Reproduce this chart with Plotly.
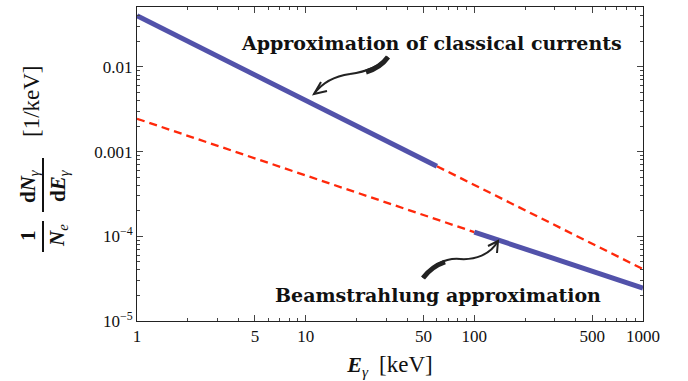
import plotly.graph_objects as go

# ---- data ----
classical_solid_x = [1, 60]
classical_solid_y = [0.040, 6.7e-4]
classical_dash_x = [60, 1000]
classical_dash_y = [6.7e-4, 4.1e-5]

beam_dash_x = [1, 100]
beam_dash_y = [2.44e-3, 1.12e-4]
beam_solid_x = [100, 1000]
beam_solid_y = [1.12e-4, 2.45e-5]

x_tickvals = [1, 5, 10, 50, 100, 500, 1000]
x_ticktext = ["1", "5", "10", "50", "100", "500", "1000"]
y_tickvals = [1e-5, 1e-4, 1e-3, 1e-2]
y_ticktext = ["10<sup>−5</sup>", "10<sup>−4</sup>", "0.001", "0.01"]

BLUE = "rgb(82,82,170)"
RED = "rgb(255,40,10)"
SERIF = "Liberation Serif, Times New Roman, DejaVu Serif, serif"
BSERIF = "DejaVu Serif, Liberation Serif, serif"

W, H = 688, 381
L, R, T, B = 137, 643, 7, 321


def px(x):
    return (x - L) / (R - L)


def py(y):
    return (B - y) / (B - T)


def path(points):
    s = ""
    for i, (x, y) in enumerate(points):
        s += ("M" if i == 0 else " L") + f"{px(x):.5f},{py(y):.5f}"
    return s


fig = go.Figure()
fig.add_trace(go.Scatter(x=classical_dash_x, y=classical_dash_y, mode="lines",
                         line=dict(color=RED, width=2.3, dash="8px,5px"), hoverinfo="skip"))
fig.add_trace(go.Scatter(x=beam_dash_x, y=beam_dash_y, mode="lines",
                         line=dict(color=RED, width=2.3, dash="8px,5px"), hoverinfo="skip"))
fig.add_trace(go.Scatter(x=classical_solid_x, y=classical_solid_y, mode="lines",
                         line=dict(color=BLUE, width=5), hoverinfo="skip"))
fig.add_trace(go.Scatter(x=beam_solid_x, y=beam_solid_y, mode="lines",
                         line=dict(color=BLUE, width=5), hoverinfo="skip"))

minor_x = [m * d for d in (1, 10, 100) for m in range(2, 10) if m != 5]
minor_y = [m * d for d in (1e-5, 1e-4, 1e-3, 1e-2) for m in range(2, 10) if m * d < 0.051]

axis_common = dict(type="log", showgrid=False, zeroline=False, showline=True,
                   linecolor="#222", linewidth=1, mirror="allticks", ticks="inside",
                   ticklen=6, tickcolor="#444", tickwidth=1,
                   tickfont=dict(family=SERIF, size=17, color="#111"))

fig.update_xaxes(**axis_common, range=[0, 3], tickmode="array",
                 tickvals=x_tickvals, ticktext=x_ticktext,
                 minor=dict(tickmode="array", tickvals=minor_x, ticks="inside",
                            ticklen=3, tickcolor="#444", showgrid=False),
                 title=dict(text="<b><i>E</i></b><sub><i>γ</i></sub>  <span style='font-size:23px'>[keV]</span>",
                            font=dict(family=SERIF, size=22, color="#111"), standoff=11))
fig.update_yaxes(**axis_common, range=[-5, -1.294], tickmode="array",
                 tickvals=y_tickvals, ticktext=y_ticktext,
                 minor=dict(tickmode="array", tickvals=minor_y, ticks="inside",
                            ticklen=3, tickcolor="#444", showgrid=False))


def note(text, x, y, font, angle=0):
    return dict(text=text, x=px(x), y=py(y), xref="paper", yref="paper",
                xanchor="center", yanchor="middle", showarrow=False,
                textangle=angle, font=font)


ann = []
ann.append(note("<b>Approximation of classical currents</b>", 431, 43,
                dict(family=BSERIF, size=19, color="#111")))
ann.append(note("<b>Beamstrahlung approximation</b>", 438, 295,
                dict(family=BSERIF, size=19, color="#111")))

# y-axis label pieces (rotated)
lab_font = dict(family=SERIF, size=21, color="#111")
ann.append(note("<b>1</b>", 28, 236, lab_font, -90))
ann.append(note("<b><i>N</i></b><sub><i>e</i></sub>", 58, 236, lab_font, -90))
ann.append(note("<b>d<i>N</i></b><sub><i>γ</i></sub>", 29, 186, lab_font, -90))
ann.append(note("<b>d<i>E</i></b><sub><i>γ</i></sub>", 59, 186, lab_font, -90))
ann.append(note("[1/keV]", 31, 101, dict(family=SERIF, size=23, color="#111"), -90))

shapes = []
# fraction bars
shapes.append(dict(type="line", xref="paper", yref="paper", x0=px(43), x1=px(43),
                   y0=py(221), y1=py(252), line=dict(color="#111", width=2)))
shapes.append(dict(type="line", xref="paper", yref="paper", x0=px(43), x1=px(43),
                   y0=py(158), y1=py(212), line=dict(color="#111", width=2)))


def bez(p0, c1, c2, p1):
    return (f"M{px(p0[0]):.5f},{py(p0[1]):.5f} C{px(c1[0]):.5f},{py(c1[1]):.5f} "
            f"{px(c2[0]):.5f},{py(c2[1]):.5f} {px(p1[0]):.5f},{py(p1[1]):.5f}")


ARW = "#222"
# arrow 1 (classical)
shapes.append(dict(type="path", xref="paper", yref="paper",
                   path=bez((388, 57), (378, 68), (365, 72), (350, 74)),
                   line=dict(color=ARW, width=2)))
shapes.append(dict(type="path", xref="paper", yref="paper",
                   path=bez((388, 57), (383, 64), (376, 69), (366, 72)),
                   line=dict(color=ARW, width=5)))
shapes.append(dict(type="path", xref="paper", yref="paper",
                   path=bez((350, 74), (335, 76), (322, 83), (314, 94)),
                   line=dict(color=ARW, width=2)))
shapes.append(dict(type="path", xref="paper", yref="paper",
                   path=path([(321, 82), (314, 94), (327, 91)]),
                   line=dict(color=ARW, width=2)))
# arrow 2 (beamstrahlung)
shapes.append(dict(type="path", xref="paper", yref="paper",
                   path=bez((423, 278), (435, 262), (448, 258), (460, 259)),
                   line=dict(color=ARW, width=2)))
shapes.append(dict(type="path", xref="paper", yref="paper",
                   path=bez((423, 278), (429, 270), (436, 265), (445, 262)),
                   line=dict(color=ARW, width=5)))
shapes.append(dict(type="path", xref="paper", yref="paper",
                   path=bez((460, 259), (475, 260), (490, 255), (498, 241)),
                   line=dict(color=ARW, width=2)))
shapes.append(dict(type="path", xref="paper", yref="paper",
                   path=path([(488, 246), (498, 241), (497, 253)]),
                   line=dict(color=ARW, width=2)))

fig.update_layout(width=W, height=H, showlegend=False,
                  margin=dict(l=L, r=W - R, t=T, b=H - B, autoexpand=False),
                  paper_bgcolor="white", plot_bgcolor="white",
                  annotations=ann, shapes=shapes)

fig.write_html("out.html", config={"displayModeBar": False},
               post_script="document.body.style.margin='0px';document.body.style.padding='0px';")
